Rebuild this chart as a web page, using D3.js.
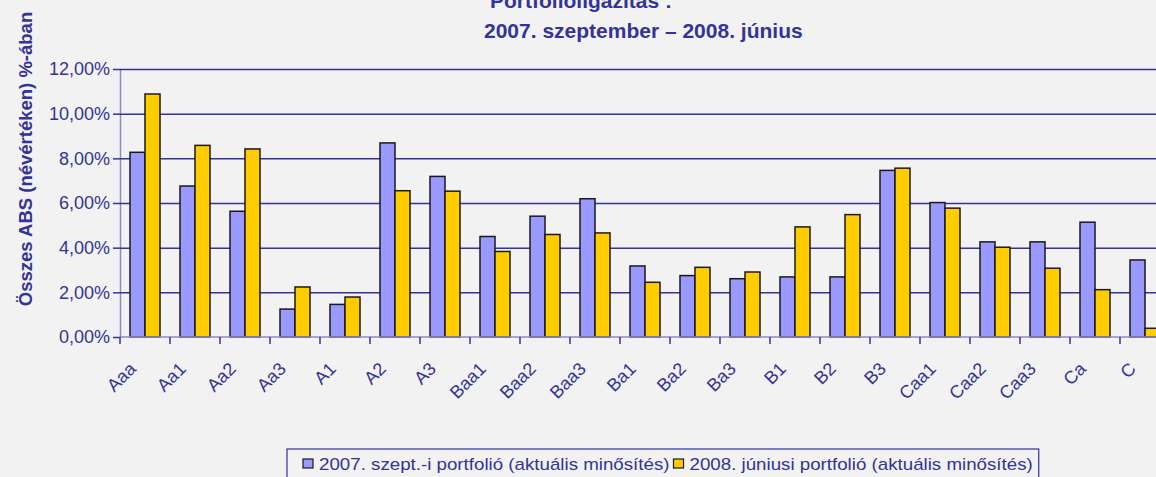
<!DOCTYPE html>
<html>
<head>
<meta charset="utf-8">
<script src="https://cdn.jsdelivr.net/npm/d3@7/dist/d3.min.js"></script>
<style>
  html, body { margin: 0; padding: 0; background: #f2f2f2; }
  svg { display: block; font-family: Arial, "Liberation Sans", sans-serif; }
</style>
</head>
<body>
<svg id="chart" width="1156" height="477"></svg>
<script>
// Rating categories and the two portfolio shares (%)
const categories = ['Aaa', 'Aa1', 'Aa2', 'Aa3', 'A1', 'A2', 'A3', 'Baa1', 'Baa2', 'Baa3',
	'Ba1', 'Ba2', 'Ba3', 'B1', 'B2', 'B3', 'Caa1', 'Caa2', 'Caa3', 'Ca', 'C'];
const sept2007 = [8.27, 6.76, 5.63, 1.25, 1.46, 8.69, 7.19, 4.50, 5.41, 6.19,
	3.18, 2.75, 2.61, 2.69, 2.69, 7.46, 6.02, 4.26, 4.26, 5.14, 3.45];
const june2008 = [10.88, 8.58, 8.42, 2.24, 1.79, 6.55, 6.53, 3.83, 4.59, 4.66,
	2.45, 3.12, 2.91, 4.93, 5.48, 7.56, 5.77, 4.02, 3.08, 2.12, 0.39];
const yTicks = [0, 2, 4, 6, 8, 10, 12];
const seriesNames = ['2007. szept.-i portfolió (aktuális minősítés)', '2008. júniusi portfolió (aktuális minősítés)'];
const titleLines = ['Portfolioligazítás :', '2007. szeptember – 2008. június'];
const yLabel = 'Összes ABS (névértéken) %-ában';

(function () {
	const svg = d3.select('#chart');
	const navy = '#333399';
	const colors = ['#9999ff', '#ffcc00'];
	const left = 120, right = 1170, top = 69, bottom = 337;

	const x = d3.scaleBand().domain(categories).range([left, right])
		.paddingInner(0.4).paddingOuter(0.2);
	const xs = d3.scaleBand().domain([0, 1]).range([0, x.bandwidth()]);
	const y = d3.scaleLinear().domain([0, 12]).range([bottom, top]);
	const fmt = v => d3.format('.2f')(v).replace('.', ',') + '%';

	// Gridlines + left axis
	const yAxis = svg.append('g').attr('transform', 'translate(' + left + ',0)')
		.call(d3.axisLeft(y).tickValues(yTicks).tickFormat(fmt).tickSize(7).tickSizeOuter(0).tickPadding(3));
	yAxis.select('.domain').attr('stroke', '#8c8cc6').attr('stroke-width', 1.5);
	yAxis.selectAll('.tick line').attr('stroke', navy).attr('stroke-width', 1.5);
	yAxis.selectAll('.tick text').attr('fill', navy).attr('font-size', 18)
		.attr('font-family', 'Arial, "Liberation Sans", sans-serif');
	yAxis.selectAll('.tick').filter(d => d > 0).append('line')
		.attr('x1', 0).attr('x2', right - left)
		.attr('stroke', navy).attr('stroke-width', 1.5);

	// Bars
	const series = [sept2007, june2008];
	series.forEach((vals, s) => {
		svg.append('g').selectAll('rect').data(vals).join('rect')
			.attr('x', (d, i) => x(categories[i]) + xs(s))
			.attr('y', d => y(d))
			.attr('width', xs.bandwidth())
			.attr('height', d => bottom - y(d))
			.attr('fill', colors[s])
			.attr('stroke', '#1a1a1a').attr('stroke-width', 1.5);
	});

	// Bottom axis with ticks at category boundaries
	const xAxis = svg.append('g').attr('transform', 'translate(0,' + bottom + ')');
	xAxis.append('line').attr('x1', left).attr('x2', right)
		.attr('stroke', '#8c8cc6').attr('stroke-width', 1.5);
	xAxis.selectAll('line.tk').data(categories).join('line').attr('class', 'tk')
		.attr('x1', d => x(d) - x.step() * 0.2).attr('x2', d => x(d) - x.step() * 0.2)
		.attr('y1', 0).attr('y2', 7)
		.attr('stroke', navy).attr('stroke-width', 1.5);
	xAxis.selectAll('text').data(categories).join('text')
		.attr('transform', d => 'translate(' + (x(d) + x.bandwidth() / 2 - 8) + ',33) rotate(-45)')
		.attr('text-anchor', 'end')
		.attr('fill', navy).attr('font-size', 18)
		.text(d => d);

	// Title
	svg.append('text').attr('x', 490).attr('y', 8)
		.attr('fill', navy).attr('font-size', 21).attr('font-weight', 'bold')
		.text(titleLines[0]);
	svg.append('text').attr('x', 484).attr('y', 38)
		.attr('fill', navy).attr('font-size', 21).attr('font-weight', 'bold')
		.text(titleLines[1]);

	// Y axis title
	svg.append('text')
		.attr('transform', 'translate(32,159) rotate(-90)')
		.attr('text-anchor', 'middle')
		.attr('fill', navy).attr('font-size', 18.5).attr('font-weight', 'bold')
		.text(yLabel);

	// Legend (text is drawn a little wider than tall, as in the original)
	const stretch = 1.17;
	const legend = svg.append('g').attr('transform', 'translate(287,449)');
	const box = legend.append('rect').attr('x', 0).attr('y', 0).attr('height', 40)
		.attr('fill', '#f2f2f2').attr('stroke', navy).attr('stroke-width', 1.2);
	let cx = 16;
	seriesNames.forEach((name, i) => {
		legend.append('rect').attr('x', cx).attr('y', 10).attr('width', 10).attr('height', 9)
			.attr('fill', colors[i]).attr('stroke', '#1a1a1a').attr('stroke-width', 1.2);
		const t = legend.append('text')
			.attr('transform', 'translate(' + (cx + 16) + ',21) scale(' + stretch + ',1)')
			.attr('fill', navy).attr('font-size', 16).text(name);
		cx += 16 + t.node().getComputedTextLength() * stretch + 4;
	});
	box.attr('width', cx + 2);
})();
</script>
</body>
</html>
